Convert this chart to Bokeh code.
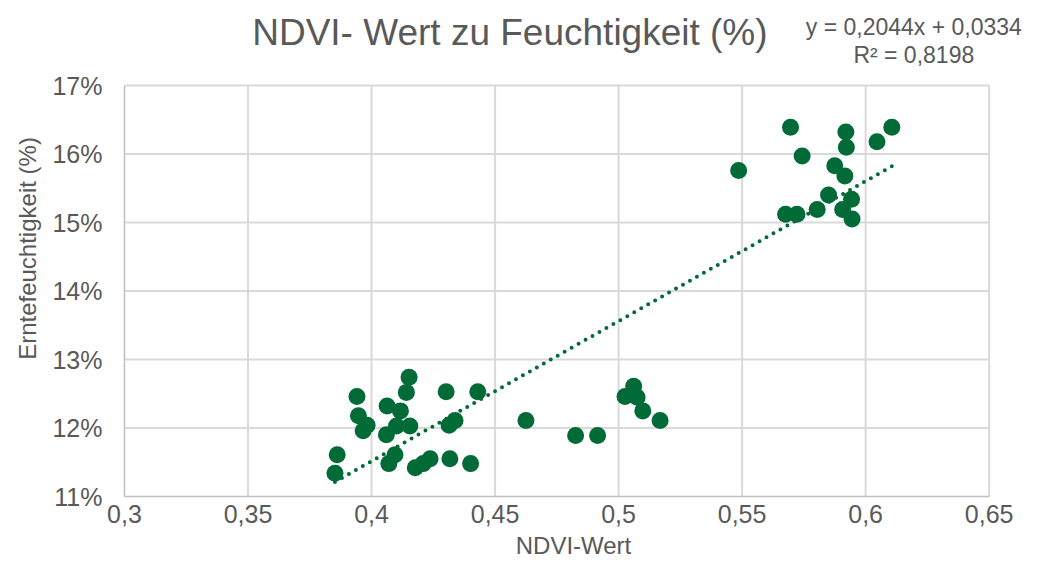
from bokeh.plotting import figure
from bokeh.models import Range1d, FixedTicker, CustomJSTickFormatter, Label, ColumnDataSource
from bokeh.embed import file_html
from bokeh.resources import INLINE

# NDVI values (x) and crop moisture in percent (y)
ndvi = [0.3852, 0.3861, 0.3941, 0.3947, 0.3966, 0.3982, 0.4063, 0.4060, 0.4070, 0.4095,
        0.4101, 0.4117, 0.4141, 0.4152, 0.4155, 0.4177, 0.4209, 0.4237, 0.4302, 0.4317,
        0.4314, 0.4338, 0.4401, 0.4430,
        0.4625, 0.4826, 0.4915, 0.5061, 0.5026, 0.5075, 0.5098, 0.5168,
        0.5486, 0.5696, 0.5743, 0.5920, 0.5922, 0.6046, 0.6106, 0.5875, 0.5916, 0.5850,
        0.5943, 0.5804, 0.5907, 0.5945, 0.5676, 0.5722]
moisture = [11.34, 11.61, 12.46, 12.18, 11.96, 12.04, 12.32, 11.90, 11.48, 11.61,
            12.03, 12.25, 12.52, 12.74, 12.03, 11.42, 11.48, 11.55, 12.53, 11.55,
            12.04, 12.11, 11.48, 12.53,
            12.11, 11.89, 11.89, 12.61, 12.46, 12.45, 12.25, 12.11,
            15.76, 16.39, 15.97, 16.32, 16.10, 16.18, 16.39, 15.83, 15.68, 15.40,
            15.34, 15.19, 15.19, 15.05, 15.12, 15.12]

x_ticks = [0.3, 0.35, 0.4, 0.45, 0.5, 0.55, 0.6, 0.65]
y_ticks = [11, 12, 13, 14, 15, 16, 17]

slope = 0.2044
intercept = 0.0334

title_text = "NDVI- Wert zu Feuchtigkeit (%)"
eq_line1 = "y = 0,2044x + 0,0334"
eq_line2 = "R² = 0,8198"
x_label = "NDVI-Wert"
y_label = "Erntefeuchtigkeit (%)"

GREEN = "#006B36"
GREY = "#595959"
GRID = "#D9D9D9"
FONT = "'Liberation Sans', Arial, sans-serif"

X_MIN, X_MAX = x_ticks[0], x_ticks[-1]
Y_MIN, Y_MAX = y_ticks[0], y_ticks[-1]

# the frame extends above and to the right of the axes so that the title
# and the trend-line equation can be drawn inside it
p = figure(width=1022, height=561, output_backend="svg", toolbar_location=None,
           x_range=Range1d(X_MIN, 0.6635), y_range=Range1d(Y_MIN, 18.241),
           min_border_left=124, min_border_right=0, min_border_top=0, min_border_bottom=65)
p.outline_line_color = None
p.background_fill_color = "white"
p.border_fill_color = "white"
p.xgrid.visible = False
p.ygrid.visible = False

for ax, ticks in ((p.xaxis, x_ticks), (p.yaxis, y_ticks)):
    ax.ticker = FixedTicker(ticks=ticks)
    ax.major_tick_line_color = None
    ax.minor_tick_line_color = None
    ax.major_tick_out = 0
    ax.major_tick_in = 0
    ax.axis_line_color = "#BFBFBF"
    ax.axis_line_width = 1.5
    ax.major_label_text_font = FONT
    ax.major_label_text_font_size = "25px"
    ax.major_label_text_color = GREY
    ax.axis_label_text_font = FONT
    ax.axis_label_text_font_size = "24px"
    ax.axis_label_text_color = GREY
    ax.axis_label_text_font_style = "normal"

p.xaxis.bounds = (X_MIN, X_MAX)
p.yaxis.bounds = (Y_MIN, Y_MAX)
p.xaxis.formatter = CustomJSTickFormatter(code="return tick.toFixed(2).replace(/0$/, '').replace('.', ',');")
p.yaxis.formatter = CustomJSTickFormatter(code="return Math.round(tick) + '%';")
p.xaxis.major_label_standoff = 8
p.yaxis.major_label_standoff = 22
p.xaxis.axis_label = x_label
p.yaxis.axis_label = y_label
p.xaxis.axis_label_standoff = 6
p.yaxis.axis_label_standoff = 8

# gridlines limited to the plot area (0.3-0.65, 11-17 %)
p.segment(x0=x_ticks[1:], y0=[Y_MIN] * (len(x_ticks) - 1), x1=x_ticks[1:], y1=[Y_MAX] * (len(x_ticks) - 1),
          line_color=GRID, line_width=2, level="underlay")
p.segment(x0=[X_MIN] * (len(y_ticks) - 1), y0=y_ticks[1:], x1=[X_MAX] * (len(y_ticks) - 1), y1=y_ticks[1:],
          line_color=GRID, line_width=2, level="underlay")

# trend line
x0, x1 = min(ndvi), max(ndvi)
trend = ColumnDataSource(dict(x=[x0, x1], y=[(slope * x0 + intercept) * 100, (slope * x1 + intercept) * 100]))
p.line("x", "y", source=trend, line_color=GREEN, line_width=4, line_dash="0 8", line_cap="round")

p.scatter(ndvi, moisture, size=17, fill_color=GREEN, line_color=GREEN, line_width=0)

p.add_layout(Label(x=0.456, y=17.77, text=title_text, text_font=FONT, text_font_size="37px",
                   text_color=GREY, text_align="center", text_baseline="middle"))
p.add_layout(Label(x=0.6195, y=17.85, text=eq_line1, text_font=FONT, text_font_size="23px",
                   text_color=GREY, text_align="center", text_baseline="middle"))
p.add_layout(Label(x=0.6195, y=17.44, text=eq_line2, text_font=FONT, text_font_size="23px",
                   text_color=GREY, text_align="center", text_baseline="middle"))

open("out.html", "w").write(file_html(p, INLINE))
